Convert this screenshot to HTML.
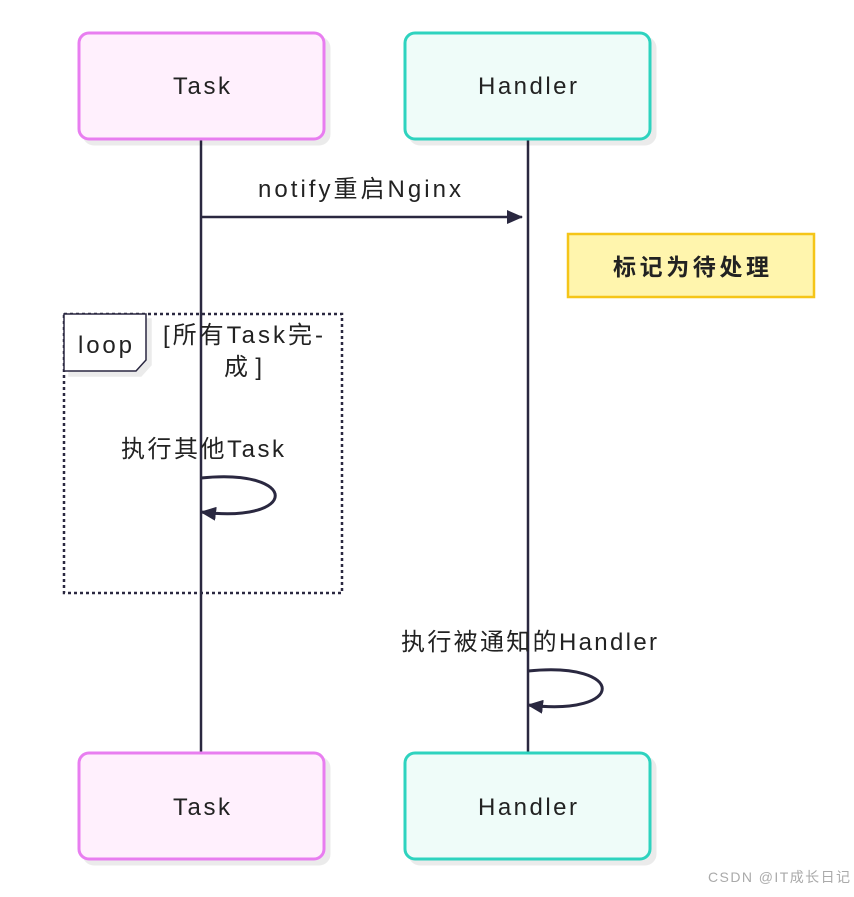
<!DOCTYPE html>
<html><head><meta charset="utf-8"><style>
body{margin:0;background:#fff}
svg text{font-family:"Liberation Sans","Noto Sans CJK SC",sans-serif;fill:#222}
</style></head><body>
<svg width="854" height="892" viewBox="0 0 854 892" xmlns="http://www.w3.org/2000/svg">
<defs>
<marker id="ah" markerWidth="16" markerHeight="14" refX="15" refY="7" orient="auto" markerUnits="userSpaceOnUse">
<path d="M0,0 L16,7 L0,14 z" fill="#2a2840"/></marker>
<filter id="sh" x="-10%" y="-10%" width="130%" height="140%"><feDropShadow dx="5" dy="5" stdDeviation="0" flood-color="#000" flood-opacity="0.08"/></filter>
</defs>
<line x1="201" y1="140" x2="201" y2="754" stroke="#2a2840" stroke-width="2.5"/>
<line x1="528" y1="140" x2="528" y2="754" stroke="#2a2840" stroke-width="2.5"/>
<g filter="url(#sh)">
<rect x="79" y="33" width="245" height="106" rx="10" fill="#fff0fd" stroke="#e87ef0" stroke-width="3"/>
<rect x="405" y="33" width="245" height="106" rx="10" fill="#effcf9" stroke="#2fd3bf" stroke-width="3"/>
<rect x="79" y="753" width="245" height="106" rx="10" fill="#fff0fd" stroke="#e87ef0" stroke-width="3"/>
<rect x="405" y="753" width="245" height="106" rx="10" fill="#effcf9" stroke="#2fd3bf" stroke-width="3"/>
</g>
<g font-size="24">
<text x="173" y="94" textLength="57">Task</text><text x="478" y="94" textLength="99">Handler</text>
<text x="173" y="815" textLength="57">Task</text><text x="478" y="815" textLength="99">Handler</text>
</g>
<text x="258" y="197" font-size="24" textLength="203">notify重启Nginx</text>
<line x1="201" y1="217" x2="522" y2="217" stroke="#2a2840" stroke-width="2.5" marker-end="url(#ah)"/>
<rect x="568" y="234" width="246" height="63" fill="#fff5ad" stroke="#f5c518" stroke-width="2.5"/>
<text x="613" y="275" font-size="23" font-weight="bold" textLength="156">标记为待处理</text>
<rect x="64" y="314" width="278" height="279" fill="none" stroke="#2a2840" stroke-width="2.5" stroke-dasharray="3,3"/>
<path d="M64,314 H146 V360 L136,371 H64 Z" fill="#fff" stroke="#2a2840" stroke-width="1.5" filter="url(#sh)"/>
<text x="78" y="353" font-size="24" textLength="54">loop</text>
<text x="163" y="343" font-size="24" textLength="160">[所有Task完-</text>
<text x="224" y="375" font-size="24" textLength="38">成]</text>
<text x="121" y="457" font-size="24" textLength="163">执行其他Task</text>
<path d="M201,478 C300,468 300,524 201,512" fill="none" stroke="#2a2840" stroke-width="3" marker-end="url(#ah)"/>
<text x="401" y="650" font-size="24" textLength="256">执行被通知的Handler</text>
<path d="M528,671 C627,661 627,717 528,705" fill="none" stroke="#2a2840" stroke-width="3" marker-end="url(#ah)"/>
<text x="708" y="882" font-size="14" style="fill:#aaa" textLength="142">CSDN @IT成长日记</text>
</svg>
</body></html>
